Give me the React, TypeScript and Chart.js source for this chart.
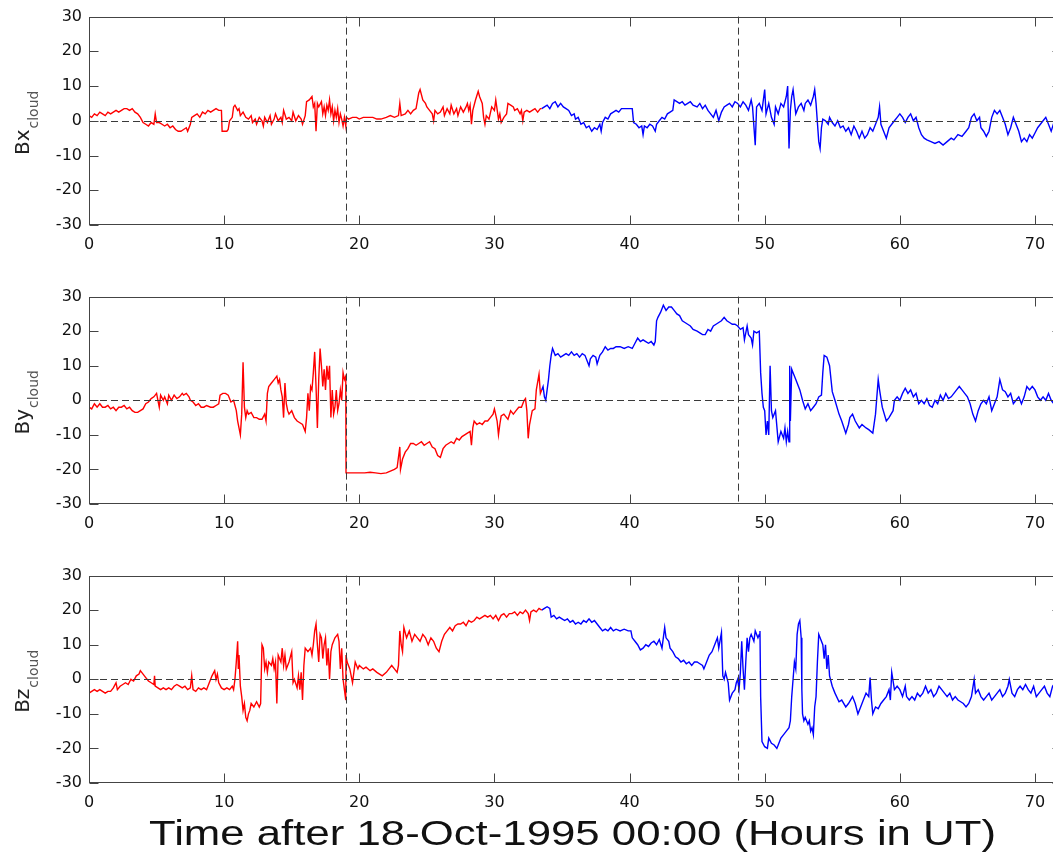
import React, { useEffect, useRef } from "react";
import { Chart, registerables } from "chart.js";

Chart.register(...registerables);

// ---------- data (hours after 18-Oct-1995 00:00 UT, nT) ----------
const xTickStep = 10;
const yTickStep = 10;
const markerHours = [19, 48];
const xTitle = "Time after 18-Oct-1995 00:00 (Hours in UT)";
const componentNames = ["Bx", "By", "Bz"];
const subscriptText = "cloud";

const bxRed: [number, number][] = [
  [0,1.5],[0.2,1],[0.4,2],[0.6,1.5],[0.8,2.5],[1,2],[1.2,1.5],[1.4,2.5],[1.6,2],[1.8,2.5],[2,3],[2.2,2.5],[2.4,3],[2.6,3.5],[2.8,3.5],[3,3],[3.2,3.5],[3.4,2.5],[3.6,2],[3.8,1],[4,-0.5],[4.2,-1],[4.4,-1.5],[4.6,-0.5],[4.8,-1],[4.9,2],[5,-0.5],[5.2,-0.5],[5.4,-1],[5.6,-1.5],[5.8,-1],[6,-2],[6.2,-1.5],[6.4,-2.5],[6.6,-3],[6.8,-3],[7,-2.5],[7.2,-2],[7.3,-3],[7.5,-1],[7.6,1],[7.8,1.5],[8,2],[8.2,1],[8.4,2.5],[8.6,2],[8.8,3],[9,2.5],[9.2,3],[9.4,3.5],[9.6,3],[9.8,3],[9.85,-3],[10,-3],[10.2,-3],[10.3,-2.5],[10.4,0],[10.6,1],[10.7,4],[10.8,4.5],[11,3],[11.1,3.5],[11.2,1.5],[11.4,2.5],[11.6,1],[11.8,0.5],[12,1.5],[12.1,-0.5],[12.3,0.5],[12.4,-1],[12.6,1],[12.8,0],[12.9,-1.5],[13,1],[13.2,-0.5],[13.4,1.5],[13.5,-1],[13.7,0.5],[13.8,2],[14,0],[14.2,1],[14.3,-0.5],[14.4,3],[14.6,0.5],[14.8,1],[15,0],[15.1,2.5],[15.3,0],[15.5,1.5],[15.7,0.5],[15.8,-1],[16,1.5],[16.1,5.5],[16.3,6],[16.5,7],[16.6,4],[16.7,5],[16.8,-3],[16.9,5],[17,4],[17.2,5.5],[17.3,2],[17.4,4],[17.5,1.5],[17.6,4.5],[17.7,3],[17.8,6],[17.9,2],[18,4],[18.1,0],[18.2,3],[18.3,1],[18.4,3.5],[18.5,-0.5],[18.6,2],[18.7,0.5],[18.8,-1.5],[18.9,1],[19,-1.5],[19.05,1],[19.2,0.5],[19.5,1],[19.8,1],[20,0.5],[20.3,1],[20.6,1],[21,1],[21.3,0.5],[21.6,0.5],[22,1],[22.3,1.5],[22.6,1],[22.9,1.5],[23,5],[23.1,1.5],[23.4,2],[23.6,3],[23.8,2],[24,3],[24.2,3.5],[24.4,8],[24.5,9],[24.7,6],[24.9,5],[25,4],[25.2,3],[25.4,2],[25.5,0],[25.6,3],[25.8,2],[26,2.5],[26.2,4],[26.3,1.5],[26.5,3.5],[26.7,2],[26.8,4.5],[27,2],[27.2,3.5],[27.3,1.5],[27.5,4],[27.7,2.5],[27.9,4],[28,5],[28.1,3],[28.2,4.5],[28.3,-1],[28.4,3],[28.6,6],[28.8,8.5],[28.9,7],[29.1,5],[29.2,1],[29.3,-1],[29.4,1.5],[29.6,0.5],[29.8,4],[30,3],[30.1,6],[30.3,0.5],[30.4,2],[30.5,-0.5],[30.7,1],[30.9,2],[31,5],[31.2,4.5],[31.4,4],[31.5,3],[31.7,3.5],[31.9,2],[32,3],[32.1,0],[32.2,2.5],[32.4,3],[32.6,2.5],[32.8,3],[33,3.5],[33.2,2.5],[33.4,3.5],[33.5,3.5]
];

const bxBlue: [number, number][] = [
  [33.5,3.5],[33.7,4],[33.9,4.5],[34.1,3.5],[34.3,5],[34.5,5.5],[34.7,4],[34.9,5],[35.1,4],[35.3,3.5],[35.5,3],[35.7,1.5],[35.9,2],[36,0.5],[36.2,1],[36.4,-1],[36.6,-0.5],[36.8,-2],[37,-1.5],[37.2,-3],[37.4,-2],[37.6,-2.5],[37.8,-1],[37.9,-3],[38,-0.5],[38.2,1],[38.4,0.5],[38.6,2],[38.8,2.5],[39,3],[39.2,2.5],[39.4,3.5],[39.6,3.5],[39.8,3.5],[40,3.5],[40.2,3.5],[40.3,-0.5],[40.5,-1],[40.7,-2],[40.9,-1.5],[41,-4],[41.1,-1.5],[41.3,-2],[41.5,-1],[41.7,-1.5],[41.9,-3],[42,-1],[42.2,0],[42.4,1],[42.6,0.5],[42.8,2],[43,2.5],[43.2,3],[43.3,6],[43.5,5.5],[43.7,5],[43.9,5.5],[44.1,4.5],[44.3,5],[44.5,5.5],[44.7,4.5],[45,4],[45.2,5],[45.4,3.5],[45.6,4.5],[45.8,3],[46,2],[46.2,1],[46.4,3],[46.6,0],[46.8,2.5],[47,4],[47.2,4.5],[47.4,5],[47.6,4],[47.8,5.5],[48,5],[48.2,4],[48.4,5.5],[48.6,4.5],[48.8,3],[49,6],[49.1,4],[49.3,-7],[49.4,4],[49.6,5],[49.8,3],[50,9],[50.1,2],[50.3,5],[50.5,1],[50.7,-1],[50.8,4],[51,2],[51.2,5],[51.4,4],[51.6,7],[51.7,10],[51.8,-8],[51.9,3],[52,7],[52.1,9],[52.3,2],[52.5,4],[52.7,5],[52.9,3],[53,5],[53.2,6],[53.4,4.5],[53.6,7],[53.7,9],[53.8,5],[54,-6],[54.1,-8],[54.2,-2],[54.3,0.5],[54.5,0],[54.7,-1],[54.8,1],[55,-0.5],[55.2,-1.5],[55.4,0],[55.6,-2],[55.8,-1.5],[56,-3],[56.2,-2],[56.4,-4],[56.6,-1.5],[56.8,-3],[57,-5],[57.2,-3],[57.4,-5],[57.6,-4],[57.8,-2],[58,-3],[58.2,-1],[58.4,1],[58.5,4],[58.6,-1],[58.8,-3],[59,-5],[59.2,-2],[59.4,-1],[59.6,0],[59.8,1],[60,2],[60.2,1],[60.4,-0.5],[60.6,1],[60.8,2],[61,0],[61.2,1],[61.4,-2],[61.6,-4],[61.8,-5],[62,-5.5],[62.3,-6],[62.6,-6.5],[62.9,-6],[63.2,-7],[63.5,-6],[63.8,-5],[64,-5.5],[64.3,-4],[64.6,-4.5],[64.9,-3],[65.1,-2],[65.3,1],[65.5,2],[65.7,0],[65.9,1],[66,-2],[66.2,-3],[66.4,-4.5],[66.6,-3],[66.8,1],[67,3],[67.2,2],[67.4,3],[67.6,1],[67.8,-1],[68,-4],[68.2,-2],[68.4,1],[68.6,-1],[68.8,-3],[69,-6],[69.2,-5],[69.4,-6],[69.6,-4],[69.8,-5],[70,-3.5],[70.2,-2],[70.4,-1],[70.6,0],[70.8,1],[71,-1],[71.2,-3],[71.4,-0.5],[71.6,-2],[71.8,-1],[72,-2]
];

const byRed: [number, number][] = [
  [0,-2],[0.2,-2.5],[0.4,-1],[0.6,-2],[0.8,-1],[1,-2],[1.2,-2],[1.4,-1.5],[1.6,-2.5],[1.8,-2],[2,-3],[2.2,-2],[2.4,-2],[2.6,-1.5],[2.8,-2.5],[3,-2],[3.2,-3],[3.4,-3.5],[3.6,-3.5],[3.8,-3],[4,-2.5],[4.2,-1],[4.4,-0.5],[4.6,0.5],[4.8,1],[5,2],[5.1,0],[5.2,-2],[5.3,1.5],[5.5,0],[5.6,1],[5.8,-1],[5.9,1.5],[6.1,0],[6.3,1.5],[6.5,0.5],[6.7,1],[6.9,2],[7,1.5],[7.2,2],[7.4,1],[7.5,0],[7.7,-0.5],[7.9,-1.5],[8.1,-1],[8.3,-2],[8.5,-2],[8.7,-1.5],[9,-2],[9.2,-2],[9.4,-1.5],[9.6,-1],[9.7,1.5],[9.9,2],[10.1,2],[10.3,1.5],[10.4,0.5],[10.5,-0.5],[10.7,0],[10.9,-3],[11,-6],[11.1,-8],[11.2,-10],[11.3,-4],[11.4,11],[11.5,-2],[11.6,-5],[11.7,-3],[11.8,-4],[12,-3.5],[12.2,-5],[12.4,-5],[12.6,-5.5],[12.8,-5.5],[13,-4],[13.1,-6],[13.2,2],[13.3,4],[13.5,5],[13.7,6],[13.9,7],[14,5],[14.1,6],[14.2,3],[14.3,1],[14.4,-5],[14.5,5],[14.6,-1],[14.7,-3],[14.8,-4],[15,-3],[15.2,-5],[15.4,-6],[15.6,-6.5],[15.8,-7],[16,-9],[16.1,-5],[16.2,2],[16.3,-3],[16.4,4],[16.5,3],[16.6,8],[16.7,14],[16.8,4],[16.9,-8],[17,6],[17.1,15],[17.2,10],[17.3,4],[17.4,9],[17.5,3],[17.6,10],[17.7,6],[17.8,10],[17.9,-5],[18,3],[18.1,-4],[18.2,-2],[18.3,3],[18.4,-3],[18.5,-1],[18.6,3],[18.7,0],[18.8,8],[18.9,6],[19,7],[19.02,-21],[19.2,-21],[19.6,-21],[20,-21],[20.4,-21],[20.8,-20.8],[21.2,-21],[21.6,-21.2],[22,-21],[22.3,-20.5],[22.6,-20],[22.8,-19.5],[23,-13.5],[23.05,-20],[23.2,-17],[23.4,-15],[23.6,-14],[23.8,-12.5],[24,-12.5],[24.2,-13],[24.4,-12.5],[24.6,-12],[24.8,-13],[25,-12.5],[25.2,-12],[25.4,-13.5],[25.6,-14],[25.8,-16],[26,-16.5],[26.2,-14],[26.4,-13],[26.6,-12.5],[26.8,-12],[27,-12.5],[27.2,-11],[27.4,-11.5],[27.6,-10.5],[27.8,-10],[28,-9.5],[28.2,-9],[28.3,-13],[28.4,-8],[28.5,-6],[28.7,-7],[28.9,-6.5],[29.1,-7],[29.3,-6],[29.5,-6],[29.7,-5],[29.9,-4],[30,-2.5],[30.2,-6],[30.3,-10],[30.4,-7],[30.5,-4.5],[30.7,-4],[30.9,-5],[31,-5.5],[31.2,-3],[31.4,-4],[31.6,-3],[31.8,-2],[32,-2],[32.2,0],[32.3,0.5],[32.4,-3],[32.5,-11],[32.6,-7],[32.8,-3],[33,-2.5],[33.1,3],[33.3,7.5],[33.4,2],[33.5,3]
];

const byBlue: [number, number][] = [
  [33.5,3],[33.6,4],[33.7,1],[33.8,0],[33.9,3],[34,6],[34.1,10],[34.2,13],[34.3,15],[34.5,13],[34.7,13.5],[34.9,12.5],[35.1,13],[35.3,13.5],[35.5,13],[35.7,14],[35.9,13],[36.1,13.5],[36.3,12.5],[36.5,13.5],[36.7,13],[36.9,11],[37,10],[37.1,12],[37.3,13],[37.5,12.5],[37.6,10.5],[37.8,13],[38,14],[38.2,15.5],[38.4,14.5],[38.6,15],[38.8,15],[39,15.5],[39.3,15.5],[39.6,15],[39.9,15.5],[40.2,15],[40.4,16.5],[40.6,18],[40.8,17],[41,17.5],[41.2,17],[41.4,16.5],[41.6,17],[41.8,16],[41.9,17],[42,23],[42.1,24],[42.3,25.5],[42.5,27.5],[42.7,26],[42.9,27],[43.1,27],[43.3,26],[43.5,25],[43.7,24.5],[43.9,23],[44.1,22.5],[44.3,22],[44.5,21.5],[44.7,20.5],[45,20],[45.2,19.5],[45.4,19],[45.6,19],[45.8,20.5],[46,20],[46.2,21.5],[46.4,22],[46.6,22.5],[46.8,23],[47,24],[47.2,23],[47.4,22.5],[47.6,22],[47.8,22],[48,21.5],[48.2,20.5],[48.4,21],[48.5,17.5],[48.7,21.5],[48.8,19],[49,18],[49.1,16],[49.2,20],[49.4,19.5],[49.6,20],[49.7,8],[49.8,2],[49.9,-2],[50,-3],[50.1,-10],[50.2,-6],[50.3,-10],[50.4,10],[50.5,-3],[50.6,-5],[50.8,-3],[51,-12],[51.2,-9],[51.4,-11],[51.5,-8],[51.6,-12],[51.7,-9],[51.8,-12],[51.85,10],[51.9,-6],[52,9],[52.1,8],[52.3,6],[52.5,4],[52.6,3],[52.8,0],[53,-2.5],[53.2,-1],[53.4,-3],[53.6,-2],[53.8,-1],[54,1],[54.2,1.5],[54.3,8],[54.4,13],[54.6,12.5],[54.8,10],[55,2.5],[55.2,0],[55.5,-4],[55.7,-6],[56,-9.5],[56.2,-7],[56.3,-5],[56.5,-4],[56.7,-6],[57,-8],[57.2,-7],[57.5,-8],[57.7,-8.5],[58,-9.5],[58.2,-4],[58.4,6],[58.5,3],[58.7,-2],[59,-6],[59.2,-5],[59.5,-3],[59.6,0],[59.8,1],[60,0],[60.2,2],[60.4,3.5],[60.6,2],[60.8,3],[61,1],[61.2,2],[61.4,-1],[61.6,0],[61.8,-1],[62,0.5],[62.2,-1.5],[62.4,-2],[62.6,0],[62.8,-1],[63,1.5],[63.2,0],[63.4,2],[63.6,0.5],[63.8,1],[64,2],[64.2,3],[64.4,4],[64.6,3],[64.8,2],[65,1],[65.2,-1],[65.4,-4],[65.6,-6],[65.8,-3],[66,-1],[66.2,0],[66.4,-1],[66.6,1],[66.8,-3],[67,-1],[67.2,1],[67.4,6],[67.6,3],[67.8,2.5],[68,1],[68.2,2],[68.4,-1],[68.6,0],[68.8,1],[69,-1],[69.2,1],[69.4,4],[69.6,3],[69.8,4],[70,3],[70.2,1],[70.4,0],[70.6,1],[70.8,0],[71,2],[71.2,0],[71.4,-1],[71.6,1],[71.8,0.5],[72,1]
];

const bzRed: [number, number][] = [
  [0,-4],[0.2,-3.5],[0.4,-3],[0.6,-3.5],[0.8,-3],[1,-3.5],[1.2,-4],[1.4,-3.5],[1.6,-3.5],[1.8,-2.5],[2,-1],[2.1,-3],[2.3,-2],[2.5,-1.5],[2.7,-1],[2.9,-1.5],[3.1,0],[3.3,-0.5],[3.5,1],[3.7,1.5],[3.8,2.5],[4,1.5],[4.2,0.5],[4.4,-0.5],[4.6,-1],[4.8,-1.5],[4.85,1],[4.9,-2],[5.1,-2.5],[5.3,-3],[5.5,-2.5],[5.7,-3],[5.9,-2.5],[6.1,-3],[6.3,-2],[6.5,-1.5],[6.7,-2],[6.9,-2.5],[7.1,-2],[7.3,-3],[7.5,-2.5],[7.6,1],[7.7,-3],[7.9,-3.5],[8.1,-2.5],[8.3,-3],[8.5,-2.5],[8.7,-3],[8.9,-1],[9.1,1],[9.3,2.5],[9.4,0],[9.5,1.5],[9.6,-1],[9.8,-2.5],[10,-3],[10.2,-2.5],[10.4,-3],[10.6,-2],[10.7,-3],[10.8,0],[10.9,5],[11,11],[11.05,3],[11.1,7],[11.2,-2],[11.3,-5],[11.4,-9],[11.5,-7],[11.6,-11],[11.7,-12],[11.8,-10],[11.9,-9],[12,-7],[12.2,-8],[12.4,-6.5],[12.6,-8],[12.7,-7],[12.8,10],[12.9,9],[13,3],[13.1,5],[13.2,2],[13.3,5],[13.5,4],[13.6,6],[13.7,3],[13.8,5],[13.9,-7],[14,7],[14.2,5],[14.3,9],[14.4,4],[14.5,7],[14.6,3],[14.8,5],[15,8],[15.1,-1],[15.2,0],[15.4,-2.5],[15.5,1],[15.6,-3],[15.7,2],[15.8,-6],[15.9,4],[16,9],[16.2,8],[16.4,9],[16.5,7],[16.6,10],[16.7,14],[16.8,16],[16.9,10],[17,5],[17.1,13],[17.2,12],[17.3,6],[17.4,10],[17.5,12],[17.6,4],[17.7,9],[17.8,0],[17.9,8],[18,10],[18.2,12],[18.4,13],[18.5,11],[18.6,3],[18.7,9],[18.8,0],[18.9,-3],[19,-6],[19.02,7],[19.1,5],[19.3,3],[19.5,-1],[19.7,5],[19.9,3],[20,4],[20.3,3],[20.5,3.5],[20.8,2.5],[21,3],[21.3,2],[21.5,1.5],[21.7,1],[22,2],[22.2,3],[22.4,4],[22.6,3],[22.8,2],[22.9,4],[23,14],[23.1,10],[23.2,8],[23.3,15],[23.5,12],[23.7,14],[23.9,11],[24.1,13],[24.3,12],[24.5,11],[24.7,13],[24.9,12],[25.1,10],[25.3,12],[25.5,11],[25.7,9],[25.9,8],[26.1,11],[26.3,13],[26.5,14],[26.7,15],[26.9,14],[27.1,15.5],[27.3,16],[27.5,16],[27.7,16.5],[27.9,15.5],[28.1,17],[28.3,16.5],[28.5,17],[28.7,18],[28.9,17.5],[29.1,18],[29.3,18.5],[29.5,18],[29.7,18.5],[29.9,17.5],[30.1,18.5],[30.3,17],[30.5,18.5],[30.7,19],[30.9,18],[31.1,19],[31.3,19],[31.5,19.5],[31.7,18.5],[31.9,19.5],[32.1,19],[32.3,20],[32.5,19],[32.6,17],[32.7,19.5],[32.9,20],[33.1,19.5],[33.3,20.5],[33.5,20]
];

const bzBlue: [number, number][] = [
  [33.5,20],[33.7,20.5],[33.9,21],[34.1,20.5],[34.2,18],[34.4,18.5],[34.6,17.5],[34.8,18],[35,17.5],[35.2,17],[35.4,17.5],[35.6,16.5],[35.8,17],[36,16],[36.2,16.5],[36.4,16],[36.6,17],[36.8,16.5],[37,17.5],[37.2,16.5],[37.4,17],[37.6,16],[37.8,15],[38,14],[38.2,14.5],[38.4,14],[38.6,15],[38.8,14],[39,14.5],[39.3,14],[39.6,14.5],[39.9,14],[40.1,14],[40.2,12],[40.4,11],[40.6,10],[40.8,8.5],[41,9],[41.2,10],[41.4,9.5],[41.6,10.5],[41.8,11],[42,10],[42.2,11.5],[42.4,9],[42.6,15],[42.7,12],[42.9,11],[43,9],[43.2,8],[43.4,6.5],[43.6,6],[43.8,5],[44,5.5],[44.2,4.5],[44.4,5],[44.6,4],[44.8,5],[45,5],[45.2,4.5],[45.4,4],[45.5,3],[45.7,5],[45.9,7],[46.1,8],[46.3,10],[46.5,12],[46.6,9],[46.8,13.5],[46.9,1],[47,0],[47.1,2],[47.3,-1],[47.4,-6],[47.6,-4],[47.8,-3],[47.9,-1],[48,0],[48.1,-3],[48.2,2],[48.3,11],[48.4,3],[48.5,-3],[48.6,5],[48.7,12],[48.8,8],[48.9,12],[49,13],[49.2,11],[49.3,14],[49.5,12],[49.6,13],[49.65,14],[49.7,-5],[49.8,-18],[50,-19.5],[50.2,-20],[50.3,-17],[50.5,-18.5],[50.7,-19],[50.9,-20],[51,-19],[51.2,-17],[51.4,-16],[51.6,-15],[51.8,-14],[51.9,-12],[52,-5],[52.1,0],[52.2,5],[52.3,3],[52.4,13],[52.5,16],[52.6,17],[52.7,12],[52.75,-3],[52.8,-10],[52.9,-12],[53,-11],[53.2,-13],[53.3,-12],[53.4,-15],[53.5,-14],[53.6,-16],[53.7,-8],[53.8,-5],[53.9,5],[54,13],[54.1,12],[54.3,10],[54.4,6],[54.5,10],[54.6,3],[54.7,7],[54.8,1],[55,-2],[55.2,-4],[55.5,-6.5],[55.7,-6],[56,-8],[56.2,-7],[56.5,-5],[56.7,-7],[56.9,-10],[57.1,-8],[57.3,-6],[57.5,-4],[57.7,-5],[57.8,0.5],[57.9,-6],[58,-10],[58.2,-8],[58.4,-8.5],[58.6,-7],[58.8,-6],[59,-5],[59.2,-3],[59.3,-6],[59.4,2],[59.6,-3],[59.8,-2],[60,-3],[60.2,-5],[60.4,-2],[60.5,-5],[60.7,-6],[60.9,-5],[61.1,-6],[61.3,-4],[61.5,-5],[61.7,-4],[61.9,-2],[62.1,-4],[62.3,-3],[62.5,-5],[62.7,-4],[62.9,-2],[63.1,-3],[63.3,-4],[63.5,-5],[63.7,-4],[63.9,-6],[64.1,-5],[64.3,-6],[64.5,-6.5],[64.7,-7],[64.9,-8],[65.1,-7],[65.3,-5],[65.5,0],[65.6,-4],[65.8,-3],[66,-5],[66.2,-6],[66.4,-5],[66.6,-4],[66.8,-6],[67,-5],[67.2,-4],[67.4,-3],[67.6,-5],[67.8,-4],[68,-2],[68.1,0],[68.3,-4],[68.5,-5],[68.7,-3],[68.9,-2],[69.1,-3],[69.3,-1.5],[69.5,-3],[69.7,-4],[69.9,-2],[70.1,-5],[70.3,-4],[70.5,-3],[70.7,-2],[70.9,-4],[71.1,-5],[71.3,-2],[71.5,-1],[71.7,-5],[71.9,-3],[72,-4]
];

const redSeries = [bxRed, byRed, bzRed];
const blueSeries = [bxBlue, byBlue, bzBlue];

// ---------- styling / layout ----------
const CANVAS_W = 1075;
const AREA_LEFT = 89;
const AREA_RIGHT_PAD = 13;
const PAD_TOP = 14;
const panelTops = [0, 280, 559];
const panelHeights = [260, 260, 298];
const areaHeights = [211, 210, 210];
const TICK_FONT = { family: "'DejaVu Sans', sans-serif", size: 16 };

function makeFramePlugin(name: string, withTitle: boolean) {
  return {
    id: "frame" + name,
    afterDatasetsDraw(chart: any) {
      const { ctx, chartArea, scales } = chart;
      const { left, right, top, bottom } = chartArea;
      const xs = scales.x;
      const ys = scales.y;
      ctx.save();
      // dashed reference lines
      ctx.strokeStyle = "#3a3a3a";
      ctx.lineWidth = 1;
      ctx.setLineDash([7, 4]);
      const y0 = Math.round(ys.getPixelForValue(0)) + 0.5;
      ctx.beginPath();
      ctx.moveTo(left, y0);
      ctx.lineTo(right, y0);
      ctx.stroke();
      markerHours.forEach((h) => {
        const px = Math.round(xs.getPixelForValue(h)) + 0.5;
        ctx.beginPath();
        ctx.moveTo(px, top);
        ctx.lineTo(px, bottom);
        ctx.stroke();
      });
      ctx.setLineDash([]);
      // box
      ctx.strokeStyle = "#444";
      ctx.lineWidth = 1;
      const L = Math.round(left) + 0.5;
      const R = Math.round(right) - 0.5;
      const T = Math.round(top) + 0.5;
      const B = Math.round(bottom) - 0.5;
      ctx.strokeRect(L, T, R - L, B - T);
      // inward tick marks
      const tl = 9;
      const xVals: number[] = xs.ticks.map((t: any) => t.value);
      const yVals: number[] = ys.ticks.map((t: any) => t.value);
      xVals.forEach((v) => {
        const px = Math.round(xs.getPixelForValue(v)) + 0.5;
        ctx.beginPath();
        ctx.moveTo(px, B);
        ctx.lineTo(px, B - tl);
        ctx.stroke();
        ctx.beginPath();
        ctx.moveTo(px, T);
        ctx.lineTo(px, T + tl);
        ctx.stroke();
      });
      yVals.forEach((v) => {
        const py = Math.round(ys.getPixelForValue(v)) + 0.5;
        ctx.beginPath();
        ctx.moveTo(L, py);
        ctx.lineTo(L + tl, py);
        ctx.stroke();
        ctx.beginPath();
        ctx.moveTo(R, py);
        ctx.lineTo(R - tl, py);
        ctx.stroke();
      });
      ctx.restore();
    },
    afterDraw(chart: any) {
      const { ctx, chartArea } = chart;
      const cy = (chartArea.top + chartArea.bottom) / 2 + 2;
      ctx.save();
      ctx.fillStyle = "#222";
      ctx.font = "20px 'DejaVu Sans', sans-serif";
      const wMain = ctx.measureText(name).width;
      ctx.font = "14px 'DejaVu Sans', sans-serif";
      const wSub = ctx.measureText(subscriptText).width;
      const total = wMain + wSub + 1;
      ctx.translate(29, cy + total / 2);
      ctx.rotate(-Math.PI / 2);
      ctx.textAlign = "left";
      ctx.textBaseline = "alphabetic";
      ctx.font = "20px 'DejaVu Sans', sans-serif";
      ctx.fillText(name, 0, 0);
      ctx.fillStyle = "#555";
      ctx.font = "14px 'DejaVu Sans', sans-serif";
      ctx.fillText(subscriptText, wMain + 1, 9);
      ctx.restore();
      if (withTitle) {
        ctx.save();
        ctx.fillStyle = "#111";
        ctx.font = "35px 'Liberation Sans', Arial, sans-serif";
        const sx = 1.25;
        const w = ctx.measureText(xTitle).width * sx;
        const cx = (chartArea.left + chartArea.right) / 2 - 3;
        ctx.translate(cx - w / 2, chart.height - 12);
        ctx.scale(sx, 1);
        ctx.textAlign = "left";
        ctx.textBaseline = "alphabetic";
        ctx.fillText(xTitle, 0, 0);
        ctx.restore();
      }
    },
  };
}

function Panel({ index }: { index: number }) {
  const ref = useRef<HTMLCanvasElement | null>(null);
  useEffect(() => {
    const canvas = ref.current;
    if (!canvas) return;
    const h = panelHeights[index];
    const xAxisH = h - PAD_TOP - areaHeights[index];
    const chart = new Chart(canvas, {
      type: "line",
      data: {
        datasets: [
          {
            data: redSeries[index].map(([x, y]) => ({ x, y })),
            borderColor: "#ff0000",
            borderWidth: 1.4,
            pointRadius: 0,
            tension: 0,
            fill: false,
          },
          {
            data: blueSeries[index].map(([x, y]) => ({ x, y })),
            borderColor: "#0000ff",
            borderWidth: 1.4,
            pointRadius: 0,
            tension: 0,
            fill: false,
          },
        ],
      },
      options: {
        animation: false,
        responsive: false,
        maintainAspectRatio: false,
        layout: { padding: { top: PAD_TOP, right: AREA_RIGHT_PAD, left: 0, bottom: 0 } },
        plugins: { legend: { display: false }, tooltip: { enabled: false } },
        scales: {
          x: {
            type: "linear",
            min: 0,
            max: 72,
            grid: { display: false, drawTicks: false },
            border: { display: false },
            ticks: {
              stepSize: xTickStep,
              includeBounds: false,
              padding: 10,
              maxRotation: 0,
              autoSkip: false,
              color: "#111",
              font: TICK_FONT,
            },
            afterFit: (s: any) => {
              s.height = xAxisH;
            },
          },
          y: {
            type: "linear",
            min: -30,
            max: 30,
            grid: { display: false, drawTicks: false },
            border: { display: false },
            ticks: { stepSize: yTickStep, padding: 7, color: "#111", font: TICK_FONT },
            afterFit: (s: any) => {
              s.width = AREA_LEFT;
            },
          },
        },
      } as any,
      plugins: [makeFramePlugin(componentNames[index], index === 2)],
    });
    return () => chart.destroy();
  }, [index]);
  return (
    <canvas
      ref={ref}
      width={CANVAS_W}
      height={panelHeights[index]}
      style={{ position: "absolute", left: 0, top: panelTops[index], display: "block" }}
    />
  );
}

export default function App() {
  return (
    <div
      style={{
        position: "fixed",
        left: 0,
        top: 0,
        width: 1053,
        height: 857,
        overflow: "hidden",
        background: "#fff",
      }}
    >
      <Panel index={0} />
      <Panel index={1} />
      <Panel index={2} />
    </div>
  );
}
